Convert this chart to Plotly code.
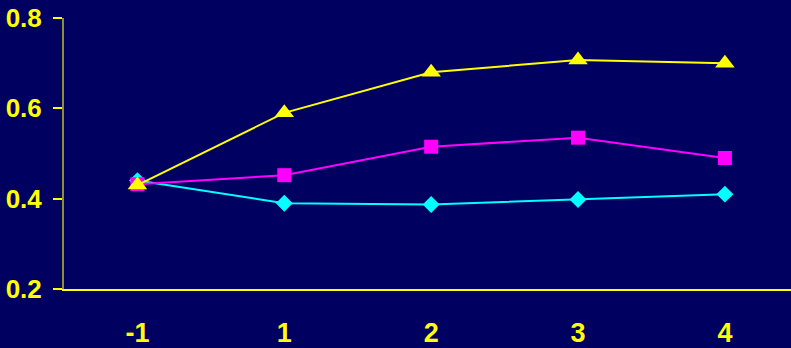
import plotly.graph_objects as go

# Categories along the x axis
categories = ["-1", "1", "2", "3", "4"]

# Series values
cyan_values = [0.44, 0.39, 0.387, 0.398, 0.41]
magenta_values = [0.432, 0.452, 0.515, 0.535, 0.49]
yellow_values = [0.43, 0.59, 0.68, 0.707, 0.70]

# Y-axis tick labels
y_ticks = [0.2, 0.4, 0.6, 0.8]
y_ticktext = ["0.2", "0.4", "0.6", "0.8"]

BG = "#000060"
YELLOW = "#FFFF00"
MAGENTA = "#FF00FF"
CYAN = "#00FFFF"
FONT = "Liberation Sans, Arial, sans-serif"

fig = go.Figure()

fig.add_trace(go.Scatter(
    x=categories, y=cyan_values, mode="lines+markers",
    line=dict(color=CYAN, width=2),
    marker=dict(symbol="diamond", size=13, color=CYAN),
    name="diamond",
))
fig.add_trace(go.Scatter(
    x=categories, y=magenta_values, mode="lines+markers",
    line=dict(color=MAGENTA, width=2),
    marker=dict(symbol="square", size=14, color=MAGENTA),
    name="square",
))
fig.add_trace(go.Scatter(
    x=categories, y=yellow_values, mode="lines+markers",
    line=dict(color=YELLOW, width=2),
    marker=dict(symbol="triangle-up", size=17, color=YELLOW),
    name="triangle",
))

fig.update_layout(
    width=791, height=348,
    margin=dict(l=64, r=0, t=18, b=57),
    paper_bgcolor=BG, plot_bgcolor=BG,
    showlegend=False,
    font=dict(family=FONT, color=YELLOW),
)

fig.update_xaxes(
    type="category",
    range=[-0.5, 4.45],
    showgrid=False, zeroline=False,
    showline=True, linecolor=YELLOW, linewidth=1.5,
    ticks="",
    tickfont=dict(size=27, color=YELLOW, family=FONT, weight="bold"),
    ticklabelstandoff=19,
)

fig.update_yaxes(
    range=[0.2, 0.8],
    tickvals=y_ticks, ticktext=y_ticktext,
    showgrid=False, zeroline=False,
    showline=True, linecolor="#8C8C3A", linewidth=2,
    ticks="outside", ticklen=9, tickwidth=2, tickcolor=YELLOW,
    tickfont=dict(size=26, color=YELLOW, family=FONT, weight="bold"),
    ticklabelstandoff=6,
)

fig.write_html("out.html")
